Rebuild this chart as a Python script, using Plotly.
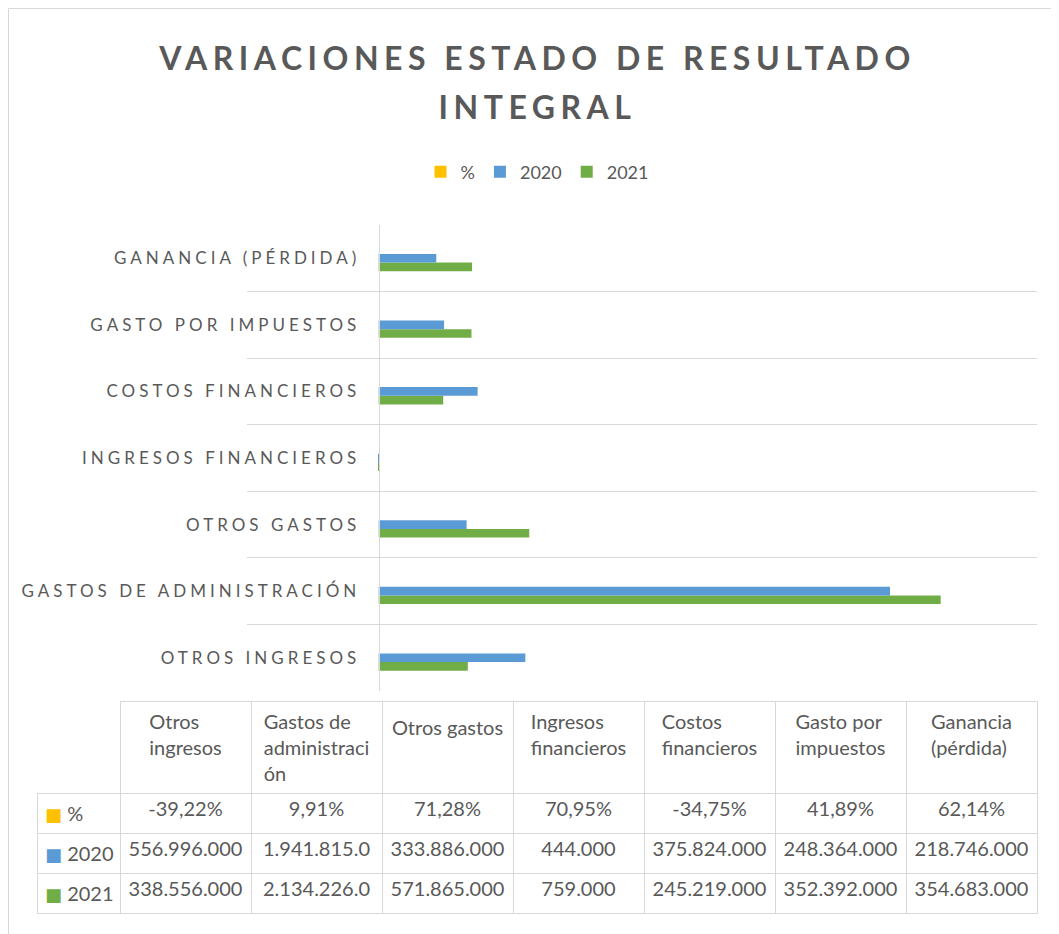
import plotly.graph_objects as go

# ---------------- data ----------------
categories = ["Otros ingresos", "Gastos de administración", "Otros gastos",
              "Ingresos financieros", "Costos financieros", "Gasto por impuestos",
              "Ganancia (pérdida)"]
header_labels = ["Otros<br>ingresos", "Gastos de<br>administraci<br>ón", "<br>Otros gastos",
                 "Ingresos<br>financieros", "Costos<br>financieros", "Gasto por<br>impuestos",
                 "Ganancia<br>(pérdida)"]
series_names = ["%", "2020", "2021"]
pct = [-0.3922, 0.0991, 0.7128, 0.7095, -0.3475, 0.4189, 0.6214]
v2020 = [556996000, 1941815000, 333886000, 444000, 375824000, 248364000, 218746000]
v2021 = [338556000, 2134226000, 571865000, 759000, 245219000, 352392000, 354683000]
colors = {"%": "#FFC000", "2020": "#5B9BD5", "2021": "#70AD47"}

# ---------------- layout constants (figure pixels) ----------------
W, H = 1059, 934
ML, MR, MT, MB = 29, 30, 217, 26
PLOT_LEFT_PX, PLOT_BOTTOM_PX = 239, 683
TABLE_TOP_PX = 693
XMIN, XMAX = -500_000_000, 2_500_000_000
TXT = "#595959"
GRID = "#D9D9D9"
FONT = "Lato"
TFS = 20

pw = W - ML - MR
ph = H - MT - MB
x_dom0 = (PLOT_LEFT_PX - ML) / pw
y_dom0 = (H - MB - PLOT_BOTTOM_PX) / ph
table_top = (H - MB - TABLE_TOP_PX) / ph
yaxis_pos = x_dom0 + (0 - XMIN) / (XMAX - XMIN) * (1 - x_dom0)


def ls(text, px, size=None):
    st = f"letter-spacing:{px}px" + (f";font-size:{size}px" if size else "")
    return f"<span style='{st}'>{text}</span>"


def fmt_num(v):
    return f"{v:,}".replace(",", ".")[:11]


def fmt_pct(p):
    return f"{p * 100:.2f}%".replace(".", ",")


values_by_series = {"%": pct, "2020": v2020, "2021": v2021}

fig = go.Figure()
for name in ["2021", "2020", "%"]:
    fig.add_trace(go.Bar(
        y=categories, x=values_by_series[name], name=name, orientation="h",
        marker=dict(color=colors[name], line=dict(width=0)),
    ))

# ---------------- data table ----------------
first_col = [
    f"<span style='color:{colors[n]};font-family:DejaVu Sans;font-size:18px;baseline-shift:6px'>■</span>"
    f"<span style='baseline-shift:6px'> {n}</span><br>"
    for n in series_names
]
table_cols = [first_col]
for i in range(len(categories)):
    table_cols.append([fmt_pct(pct[i]), fmt_num(v2020[i]), fmt_num(v2021[i])])

fig.add_trace(go.Table(
    domain=dict(x=[0, 1], y=[0, table_top]),
    columnwidth=[83] + [131] * len(categories),
    header=dict(
        values=[""] + header_labels,
        fill_color="white",
        line=dict(color=["rgba(0,0,0,0)"] + [GRID] * len(categories), width=1),
        align="center",
        font=dict(family=FONT, size=TFS, color=TXT),
        height=86,
    ),
    cells=dict(
        values=table_cols,
        fill_color="white",
        line=dict(color=GRID, width=1),
        align=["left"] + ["center"] * len(categories),
        font=dict(family=FONT, size=TFS, color=TXT),
        height=38,
    ),
))

fig.update_layout(
    width=W, height=H,
    margin=dict(l=ML, r=MR, t=MT, b=MB),
    paper_bgcolor="white", plot_bgcolor="white",
    barmode="group", bargap=0.61, bargroupgap=0,
    title=dict(
        text=ls("VARIACIONES ESTADO DE RESULTADO", 5.5, 32) + "<br>" + ls("INTEGRAL", 5.5, 32),
        x=0.5, xanchor="center", y=1 - 62 / H, yanchor="middle",
        font=dict(family=FONT, size=38, color=TXT, weight="bold"),
    ),
    legend=dict(
        orientation="h", x=0.5, xanchor="center",
        y=1 + (MT - 164) / ph, yanchor="middle",
        traceorder="reversed",
        font=dict(family=FONT, size=18, color=TXT),
    ),
    xaxis=dict(
        domain=[x_dom0, 1], range=[XMIN, XMAX],
        showticklabels=False, showgrid=False, zeroline=False, showline=False,
    ),
    yaxis=dict(
        domain=[y_dom0, 1], type="category",
        categoryorder="array", categoryarray=categories,
        anchor="free", position=yaxis_pos,
        tickvals=categories,
        ticktext=[ls(c.upper(), 4) for c in categories],
        tickson="boundaries", ticks="",
        showgrid=True, gridcolor=GRID, gridwidth=1,
        showline=True, linecolor=GRID, linewidth=1,
        ticklabelstandoff=15,
        tickfont=dict(family=FONT, size=17, color=TXT),
    ),
    shapes=[dict(
        type="rect", xref="paper", yref="paper",
        x0=(0.5 - ML) / pw, x1=(W + 10 - ML) / pw,
        y0=-0.2, y1=(H - MB - 0.5) / ph,
        line=dict(color=GRID, width=1), fillcolor="rgba(0,0,0,0)", layer="below",
    )],
    showlegend=True,
)

fig.write_html("out.html")
